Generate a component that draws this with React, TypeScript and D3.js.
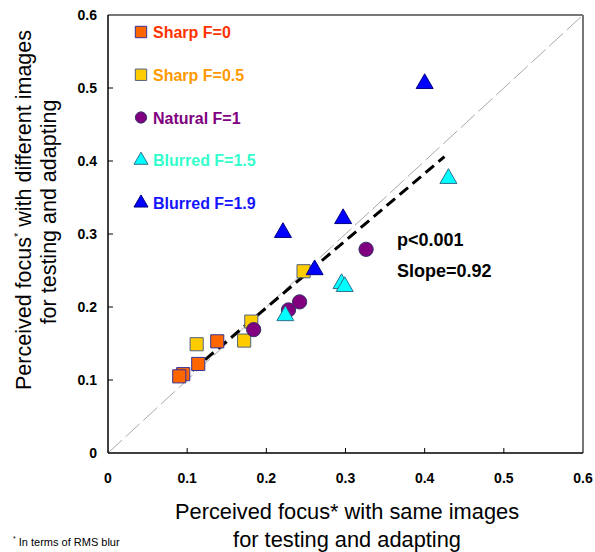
import React from "react";
import * as d3 from "d3";

const sharp0X = [0.095, 0.090, 0.114, 0.138];
const sharp0Y = [0.108, 0.105, 0.122, 0.153];
const sharp05X = [0.112, 0.172, 0.181, 0.247];
const sharp05Y = [0.149, 0.154, 0.180, 0.249];
const naturalX = [0.184, 0.228, 0.242, 0.326];
const naturalY = [0.169, 0.196, 0.207, 0.279];
const blur15X = [0.224, 0.295, 0.299, 0.430];
const blur15Y = [0.188, 0.232, 0.228, 0.376];
const blur19X = [0.221, 0.261, 0.297, 0.400];
const blur19Y = [0.302, 0.251, 0.321, 0.506];

const regX = [0.09, 0.425];
const regY = [0.0978, 0.406];
const diagVals = [0, 0.6];

const tickVals = [0, 0.1, 0.2, 0.3, 0.4, 0.5, 0.6];
const tickLabels = ["0", "0.1", "0.2", "0.3", "0.4", "0.5", "0.6"];

const legendLabels = ["Sharp F=0", "Sharp F=0.5", "Natural F=1", "Blurred F=1.5", "Blurred F=1.9"];

const FONT = "'Liberation Sans', Arial, Helvetica, sans-serif";

type Series = {
  xs: number[];
  ys: number[];
  shape: d3.SymbolType;
  size: number;
  legendSize: number;
  fill: string;
  stroke: string;
  text: string;
};

const series: Series[] = [
  { xs: sharp0X, ys: sharp0Y, shape: d3.symbolSquare, size: 172, legendSize: 130, fill: "#ff6600", stroke: "#333399", text: "#ff3300" },
  { xs: sharp05X, ys: sharp05Y, shape: d3.symbolSquare, size: 172, legendSize: 130, fill: "#ffcc00", stroke: "#506080", text: "#ff9900" },
  { xs: naturalX, ys: naturalY, shape: d3.symbolCircle, size: 160, legendSize: 100, fill: "#800080", stroke: "#333366", text: "#800080" },
  { xs: blur15X, ys: blur15Y, shape: d3.symbolTriangle, size: 125, legendSize: 85, fill: "#00ffff", stroke: "#2f6f8f", text: "#33ffcc" },
  { xs: blur19X, ys: blur19Y, shape: d3.symbolTriangle, size: 125, legendSize: 85, fill: "#0000ff", stroke: "#000080", text: "#1515ff" },
];

export default function App() {
  const x = d3.scaleLinear().domain([0, 0.6]).range([108, 583]);
  const y = d3.scaleLinear().domain([0, 0.6]).range([453, 15]);
  const legendY = d3.scalePoint<number>().domain([0, 1, 2, 3, 4]).range([32, 203]);

  const diag = d3.line<number>().x((v) => x(v)).y((v) => y(v))(diagVals) as string;
  const reg = d3
    .line<number>()
    .x((_, i) => x(regX[i]))
    .y((_, i) => y(regY[i]))(regX) as string;

  return (
    <svg
      width={595}
      height={552}
      style={{ position: "absolute", left: 0, top: 0, display: "block", background: "#fff" }}
      fontFamily={FONT}
    >
      <rect x={0} y={0} width={595} height={552} fill="#fff" />
      {/* frame */}
      <line x1={x(0)} x2={x(0.6)} y1={y(0.6)} y2={y(0.6)} stroke="#777" strokeWidth={2} />
      <line x1={x(0.6)} x2={x(0.6)} y1={y(0.6)} y2={y(0)} stroke="#777" strokeWidth={2} />
      {/* diagonal */}
      <path d={diag} stroke="#a8a8a8" strokeWidth={1} fill="none" strokeDasharray="19 5" />
      {/* axes */}
      <line x1={x(0)} x2={x(0.6)} y1={y(0)} y2={y(0)} stroke="#000" strokeWidth={1.5} />
      <line x1={x(0)} x2={x(0)} y1={y(0)} y2={y(0.6)} stroke="#000" strokeWidth={1.5} />
      {tickVals.map((t, i) => (
        <g key={"t" + i}>
          {i > 0 && i < 6 && <line x1={x(t)} x2={x(t)} y1={y(0)} y2={y(0) - 5} stroke="#000" strokeWidth={1} />}
          {i > 0 && i < 6 && <line x1={x(0)} x2={x(0) + 5} y1={y(t)} y2={y(t)} stroke="#000" strokeWidth={1} />}
          <text x={x(t)} y={483} textAnchor="middle" fontSize={14} fontWeight="bold" fill="#000">
            {tickLabels[i]}
          </text>
          <text x={97} y={y(t) + 5} textAnchor="end" fontSize={14} fontWeight="bold" fill="#000">
            {tickLabels[i]}
          </text>
        </g>
      ))}
      {/* regression */}
      <path d={reg} stroke="#000" strokeWidth={3} fill="none" strokeDasharray="11 6" />
      {/* points */}
      {series.map((s, si) => (
        <g key={"s" + si}>
          {s.xs.map((xv, i) => (
            <path
              key={i}
              d={d3.symbol(s.shape, s.size)() as string}
              transform={`translate(${x(xv)},${y(s.ys[i])})`}
              fill={s.fill}
              stroke={s.stroke}
              strokeWidth={1}
            />
          ))}
        </g>
      ))}
      {/* legend */}
      {series.map((s, si) => (
        <g key={"l" + si}>
          <path
            d={d3.symbol(s.shape, s.legendSize)() as string}
            transform={`translate(141,${legendY(si)})`}
            fill={s.fill}
            stroke={s.stroke}
            strokeWidth={1}
          />
          <text x={153} y={(legendY(si) as number) + 6} fontSize={16} fontWeight="bold" fill={s.text}>
            {legendLabels[si]}
          </text>
        </g>
      ))}
      {/* stats */}
      <text x={397} y={246} fontSize={18} fontWeight="bold" fill="#000">p&lt;0.001</text>
      <text x={397} y={277} fontSize={18} fontWeight="bold" fill="#000">Slope=0.92</text>
      {/* x title */}
      <text x={347} y={519} textAnchor="middle" fontSize={21.8} fill="#000">
        Perceived focus* with same images
      </text>
      <text x={347} y={547} textAnchor="middle" fontSize={21.8} fill="#000">
        for testing and adapting
      </text>
      {/* y title */}
      <g transform="translate(31,210) rotate(-90)">
        <text x={0} y={0} textAnchor="middle" fontSize={21.5} fill="#000">
          Perceived focus
          <tspan fontSize={11} dy={-9}>*</tspan>
          <tspan dy={9}> with different images</tspan>
        </text>
      </g>
      <g transform="translate(56,212) rotate(-90)">
        <text x={0} y={0} textAnchor="middle" fontSize={21.5} fill="#000">
          for testing and adapting
        </text>
      </g>
      {/* footnote */}
      <text x={13} y={546} fontSize={11} fill="#000">
        <tspan fontSize={7} dy={-5}>*</tspan>
        <tspan dy={5}> In terms of RMS blur</tspan>
      </text>
    </svg>
  );
}
